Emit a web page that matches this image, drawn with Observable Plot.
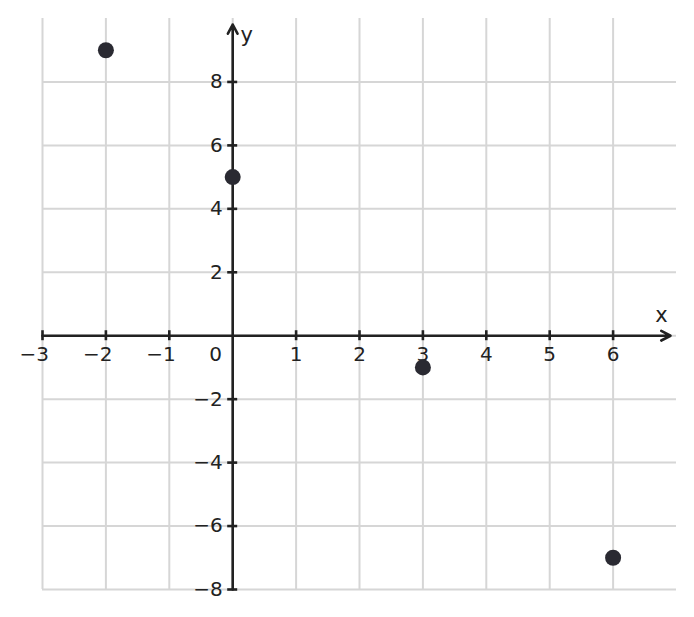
<!DOCTYPE html>
<html>
<head>
<meta charset="utf-8">
<script src="https://cdn.jsdelivr.net/npm/d3@7"></script>
<script src="https://cdn.jsdelivr.net/npm/@observablehq/plot@0.6"></script>
<style>
  html, body { margin: 0; padding: 0; background: #fff; }
  #chart svg { display: block; }
</style>
</head>
<body>
<div id="chart"></div>
<script>
const pointX = [-2, 0, 3, 6];
const pointY = [9, 5, -1, -7];
const xTicks = [-3, -2, -1, 0, 1, 2, 3, 4, 5, 6];
const yTicks = [-8, -6, -4, -2, 0, 2, 4, 6, 8];
const xDomain = [-3, 7];
const yDomain = [-8, 10];

const points = pointX.map((x, i) => ({x, y: pointY[i]}));
const fmt = d => String(d).replace("-", "\u2212");
const xTickNZ = xTicks.filter(d => d !== 0);
const yTickNZ = yTicks.filter(d => d !== 0);
const xNeg = xTickNZ.filter(d => d < 0);
const xPos = xTickNZ.filter(d => d > 0);

const axisColor = "#222222";
const gridColor = "#d6d6d6";
const fontSize = 20;

const chart = Plot.plot({
  width: 694,
  height: 617,
  marginLeft: 42,
  marginRight: 18,
  marginTop: 18,
  marginBottom: 28,
  x: {domain: xDomain, axis: null},
  y: {domain: yDomain, axis: null},
  style: {fontFamily: "DejaVu Sans", fontSize: fontSize + "px", background: "#fff"},
  marks: [
    Plot.ruleX(xTicks, {stroke: gridColor, strokeWidth: 2}),
    Plot.ruleY(yTicks, {stroke: gridColor, strokeWidth: 2}),
    // x axis with arrow
    Plot.arrow([{x1: xDomain[0], x2: xDomain[1], y: 0}], {
      x1: "x1", x2: "x2", y1: "y", y2: "y",
      stroke: axisColor, strokeWidth: 2.6, headLength: 6, headAngle: 55, insetEnd: 6
    }),
    // y axis with arrow
    Plot.arrow([{y1: yDomain[0], y2: yDomain[1], x: 0}], {
      x1: "x", x2: "x", y1: "y1", y2: "y2",
      stroke: axisColor, strokeWidth: 2.6, headLength: 6, headAngle: 55, insetEnd: 6
    }),
    // ticks
    Plot.ruleX(xTickNZ, {x: d => d, y1: 0, y2: 0, insetTop: -5, insetBottom: -5, stroke: axisColor, strokeWidth: 2.6}),
    Plot.ruleY(yTickNZ, {y: d => d, x1: 0, x2: 0, insetLeft: -5, insetRight: -5, stroke: axisColor, strokeWidth: 2.6}),
    // tick labels
    Plot.text(xPos, {x: d => d, y: 0, text: fmt, dy: 19, fill: axisColor, fontSize}),
    Plot.text(xNeg, {x: d => d, y: 0, text: fmt, dy: 19, dx: 6.5, textAnchor: "end", fill: axisColor, fontSize}),
    Plot.text(yTickNZ, {x: 0, y: d => d, text: fmt, dx: -10, textAnchor: "end", fill: axisColor, fontSize}),
    Plot.text(["0"], {x: 0, y: 0, text: d => d, dx: -17, dy: 19, fill: axisColor, fontSize}),
    // axis names
    Plot.text(["x"], {x: xDomain[1], y: 0, text: d => d, dx: -15, dy: -20, fill: axisColor, fontSize: 21}),
    Plot.text(["y"], {x: 0, y: yDomain[1], text: d => d, dx: 14, dy: 17, fill: axisColor, fontSize: 21}),
    // points
    Plot.dot(points, {x: "x", y: "y", r: 8, fill: "#2a2a32", stroke: "none"})
  ]
});
document.getElementById("chart").append(chart);
</script>
</body>
</html>
